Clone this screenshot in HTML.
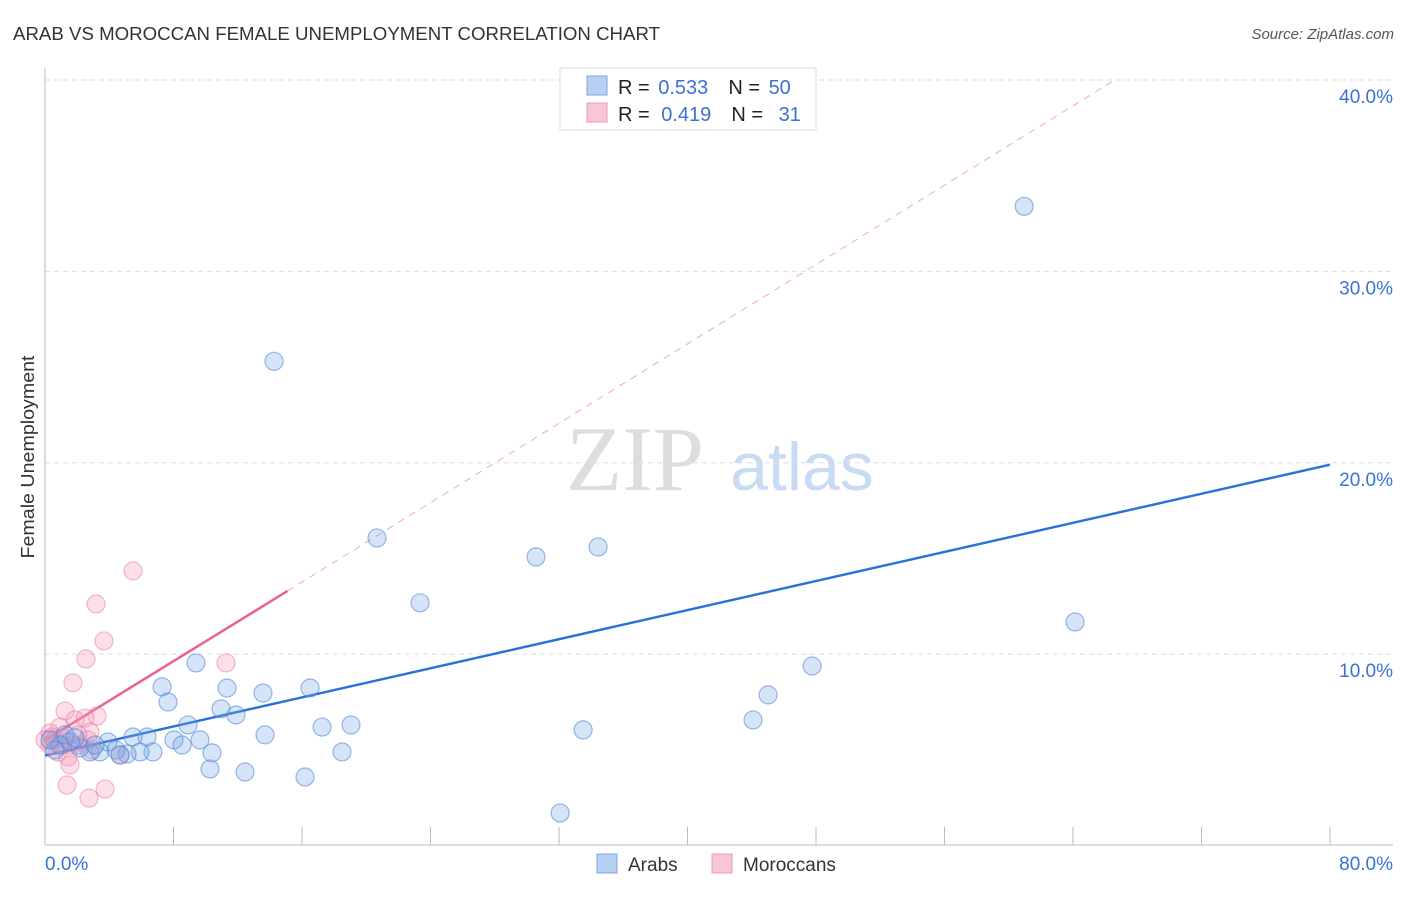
<!DOCTYPE html>
<html><head><meta charset="utf-8"><style>
body{margin:0;background:#fff;font-family:"Liberation Sans",sans-serif}
</style></head><body>
<svg id="chart" width="1406" height="892" xmlns="http://www.w3.org/2000/svg" font-family="Liberation Sans, sans-serif">
<text x="13" y="40" font-size="18" fill="#333" textLength="647" lengthAdjust="spacingAndGlyphs">ARAB VS MOROCCAN FEMALE UNEMPLOYMENT CORRELATION CHART</text>
<text x="1394" y="39" font-size="15" fill="#555" text-anchor="end" font-style="italic">Source: ZipAtlas.com</text>
<text transform="translate(34,457) rotate(-90)" font-size="18" fill="#333" text-anchor="middle" textLength="203" lengthAdjust="spacingAndGlyphs">Female Unemployment</text>
<g>
<text x="635" y="490" font-size="92" fill="#ddd" font-family="Liberation Serif, serif" text-anchor="middle">ZIP</text>
<text x="802" y="490" font-size="68" fill="#c9dbf3" text-anchor="middle">atlas</text>
</g>
<g id="grid"></g><g id="axes"></g><g id="lines"></g><g id="points"></g>
<g>
<rect x="560" y="68" width="256" height="62" fill="#fff" stroke="#ddd"/>
<rect x="587" y="76" width="20" height="19" fill="#b8d1f3" stroke="#7aa5e0"/>
<rect x="587" y="103" width="20" height="19" fill="#f9c6d5" stroke="#ee9ab4"/>
<text x="618" y="94" font-size="20" fill="#222">R = <tspan fill="#3a72d4" dx="3">0.533</tspan><tspan dx="20">N = </tspan><tspan fill="#3a72d4" dx="3">50</tspan></text>
<text x="618" y="121" font-size="20" fill="#222">R = <tspan fill="#3a72d4" dx="6">0.419</tspan><tspan dx="20">N = </tspan><tspan fill="#3a72d4" dx="10">31</tspan></text>
</g>
<g>
<rect x="597" y="854" width="20" height="19" fill="#b8d1f3" stroke="#7aa5e0"/>
<text x="628" y="871" font-size="19" fill="#333">Arabs</text>
<rect x="712" y="854" width="20" height="19" fill="#f9c6d5" stroke="#ee9ab4"/>
<text x="743" y="871" font-size="19" fill="#333">Moroccans</text>
</g>
</svg>
<script>
const yTicks=[10,20,30,40];
const yTickLabels=["10.0%","20.0%","30.0%","40.0%"];
const xTicks=[0,8,16,24,32,40,48,56,64,72,80];
const xEndLabels=["0.0%","80.0%"];
const arabX=[14.26,60.96,20.67,30.57,34.43,23.35,64.13,47.76,9.40,45.02,7.29,7.66,11.33,13.57,16.50,10.96,11.89,44.08,8.90,17.25,19.05,33.50,13.70,6.35,5.48,8.03,9.65,8.53,3.92,10.40,18.49,6.72,5.92,5.11,4.42,3.42,2.80,2.18,1.56,0.93,0.62,0.31,10.27,12.45,16.19,32.07,3.11,1.25,1.87,4.67];
const arabY=[25.3,33.4,16.07,15.08,15.6,12.68,11.68,9.38,9.54,7.87,8.29,7.50,8.23,7.97,8.23,7.14,6.82,6.56,6.30,6.19,6.30,6.04,5.78,5.67,5.67,5.52,5.52,5.25,5.41,4.84,4.89,4.89,4.89,4.78,4.99,4.89,4.89,5.10,5.41,5.25,4.99,5.52,4.00,3.84,3.58,1.70,5.25,5.78,5.62,4.73];
const morX=[5.48,3.18,3.67,2.55,11.27,1.74,1.25,1.87,3.24,2.49,2.80,0.93,0.31,0.62,1.06,1.68,2.18,0.31,0.81,1.43,1.56,1.37,2.74,3.74,4.67,2.68,0,0.44,2.05,2.93,1.18];
const morY=[14.35,12.62,10.69,9.75,9.54,8.50,7.03,6.56,6.77,6.66,5.93,6.19,5.88,5.52,5.25,5.25,5.25,5.25,4.89,4.63,4.21,3.16,2.48,2.95,4.73,5.52,5.52,5.67,5.78,4.99,5.62];
const arabTrend=[[0,4.7],[80,19.9]];
const morTrendSolid=[[0,5.5],[15.1,13.3]];
const morTrendDash=[[15.1,13.3],[66.6,40]];

const NS="http://www.w3.org/2000/svg";
const X=v=>45+v*(1330-45)/80;
const Y=v=>845.5-v*(845.5-80)/40;
function mk(tag,attrs,parent){const e=document.createElementNS(NS,tag);for(const k in attrs)e.setAttribute(k,attrs[k]);document.getElementById(parent).appendChild(e);return e;}

yTicks.forEach((t,i)=>{
  const g=mk('line',{x1:45,x2:1393,y1:Y(t),y2:Y(t),stroke:'#ddd','stroke-dasharray':'5,4'},'grid');
  
  
  const l=mk('text',{x:1393,y:Y(t)+23,'font-size':19,fill:'#3a72d4','text-anchor':'end'},'axes');
  l.textContent=yTickLabels[i];
  
  
});
const ya=mk('line',{x1:45,x2:45,y1:68,y2:845,stroke:'#bbb'},'axes');


const xa=mk('line',{x1:45,x2:1393,y1:845,y2:845,stroke:'#bbb'},'axes');


xTicks.forEach(t=>{
  const k=mk('line',{x1:X(t),x2:X(t),y1:827,y2:845,stroke:'#bbb'},'axes');
  
  
});
const xl0=mk('text',{x:45,y:870,'font-size':19,fill:'#3a72d4'},'axes');
xl0.textContent=xEndLabels[0];


const xl1=mk('text',{x:1393,y:870,'font-size':19,fill:'#3a72d4','text-anchor':'end'},'axes');
xl1.textContent=xEndLabels[1];



morX.forEach((x,i)=>{
  const c=mk('circle',{cx:X(x),cy:Y(morY[i]),r:9,fill:'rgba(244,150,180,0.3)',stroke:'rgba(232,120,155,0.5)','stroke-width':1.2},'points');
  
  
});
arabX.forEach((x,i)=>{
  const c=mk('circle',{cx:X(x),cy:Y(arabY[i]),r:9,fill:'rgba(120,165,230,0.3)',stroke:'rgba(70,130,215,0.55)','stroke-width':1.2},'points');
  
  
});
const bl=mk('line',{x1:X(arabTrend[0][0]),y1:Y(arabTrend[0][1]),x2:X(arabTrend[1][0]),y2:Y(arabTrend[1][1]),stroke:'#2a72d8','stroke-width':2.5},'lines');


const pl=mk('line',{x1:X(morTrendSolid[0][0]),y1:Y(morTrendSolid[0][1]),x2:X(morTrendSolid[1][0]),y2:Y(morTrendSolid[1][1]),stroke:'#e8638d','stroke-width':2.5},'lines');


const pd=mk('line',{x1:X(morTrendDash[0][0]),y1:Y(morTrendDash[0][1]),x2:X(morTrendDash[1][0]),y2:Y(morTrendDash[1][1]),stroke:'#eeaabd','stroke-width':1,'stroke-dasharray':'7,6'},'lines');


</script>
</body></html>
